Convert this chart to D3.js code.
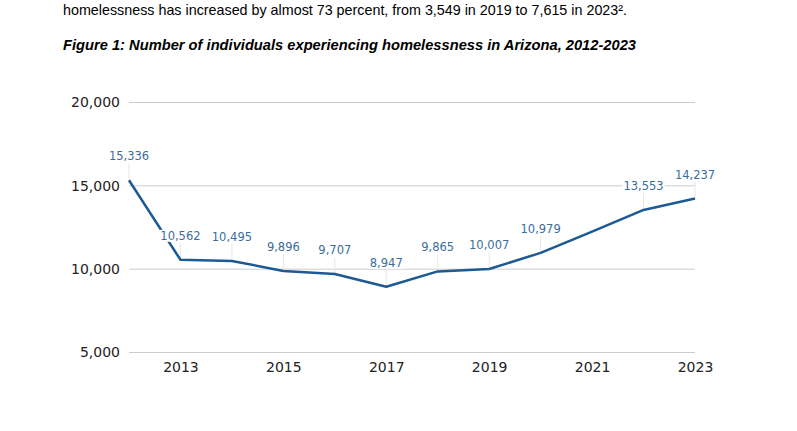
<!DOCTYPE html>
<html><head><meta charset="utf-8">
<script src="https://cdn.jsdelivr.net/npm/d3@7"></script>
<style>
html,body{margin:0;padding:0;background:#fff;}
</style></head>
<body>
<svg id="c" width="797" height="431"></svg>
<script>
const years = [2012,2013,2014,2015,2016,2017,2018,2019,2020,2021,2022,2023];
const values = [15336,10562,10495,9896,9707,8947,9865,10007,10979,null,13553,14237];
const lineValues = [15336,10562,10495,9896,9707,8947,9865,10007,10979,12250,13553,14237];
const yTicks = [5000,10000,15000,20000];
const xTicks = [2013,2015,2017,2019,2021,2023];
const introText = "homelessness has increased by almost 73 percent, from 3,549 in 2019 to 7,615 in 2023\u00B2.";
const titleText = "Figure 1: Number of individuals experiencing homelessness in Arizona, 2012-2023";

const svg = d3.select("#c");
const x = d3.scaleLinear().domain([2012,2023]).range([129,695]);
const y = d3.scaleLinear().domain([5000,20000]).range([352.5,102.5]);
const chartFont = "DejaVu Sans, sans-serif";
const textFont = "Liberation Sans, Arial, sans-serif";

// intro text
svg.append("text").attr("x",63).attr("y",15)
  .attr("font-family",textFont).attr("font-size",14.5)
  .attr("fill","#000").attr("textLength",564).attr("lengthAdjust","spacingAndGlyphs").text(introText);

svg.append("text").attr("x",63).attr("y",50)
  .attr("font-family",textFont).attr("font-size",14.5)
  .attr("font-weight","bold").attr("font-style","italic")
  .attr("textLength",573).attr("lengthAdjust","spacingAndGlyphs").text(titleText);

// gridlines
svg.append("g").selectAll("line").data(yTicks).join("line")
  .attr("x1",129).attr("x2",695).attr("y1",d=>y(d)).attr("y2",d=>y(d))
  .attr("stroke","#cccccc").attr("stroke-width",1);

// y axis
const yAxis = d3.axisLeft(y).tickValues(yTicks).tickSize(0).tickPadding(9).tickFormat(d3.format(","));
const gy = svg.append("g").attr("transform","translate(129,0)").call(yAxis);
gy.select(".domain").remove();
gy.selectAll("text").attr("font-family",chartFont).attr("font-size",14).attr("fill","#222");

// x axis
const xAxis = d3.axisBottom(x).tickValues(xTicks).tickSize(0).tickPadding(9).tickFormat(d3.format("d"));
const gx = svg.append("g").attr("transform","translate(0,353)").call(xAxis);
gx.select(".domain").remove();
gx.selectAll("text").attr("font-family",chartFont).attr("font-size",14).attr("fill","#222");

const pts = years.map((yr,i)=>({yr, v: values[i]})).filter(d=>d.v!==null);

// leader lines
svg.append("g").selectAll("line").data(pts).join("line")
  .attr("x1",d=>x(d.yr)).attr("x2",d=>x(d.yr))
  .attr("y1",d=>y(d.v)-17).attr("y2",d=>y(d.v))
  .attr("stroke","#e6e6e6").attr("stroke-width",1);

// line
svg.append("path").datum(years.map((yr,i)=>[yr,lineValues[i]]))
  .attr("d", d3.line().x(d=>x(d[0])).y(d=>y(d[1])))
  .attr("fill","none").attr("stroke","#1c5a94").attr("stroke-width",2.5).attr("stroke-linejoin","round");

// labels with white background
const lg = svg.append("g").selectAll("g").data(pts).join("g")
  .attr("transform",d=>`translate(${x(d.yr)},${y(d.v)-24})`);
lg.append("text").attr("text-anchor","middle").attr("dy","0.35em")
  .attr("font-family",chartFont).attr("font-size",11.5).attr("fill","#3a6d9e")
  .text(d=>d3.format(",")(d.v));
lg.each(function(){
  const g = d3.select(this);
  const bb = g.select("text").node().getBBox();
  g.insert("rect","text").attr("x",bb.x-1).attr("y",bb.y+1).attr("width",bb.width+2).attr("height",bb.height-2).attr("fill","#fff");
});
</script>
</body></html>
